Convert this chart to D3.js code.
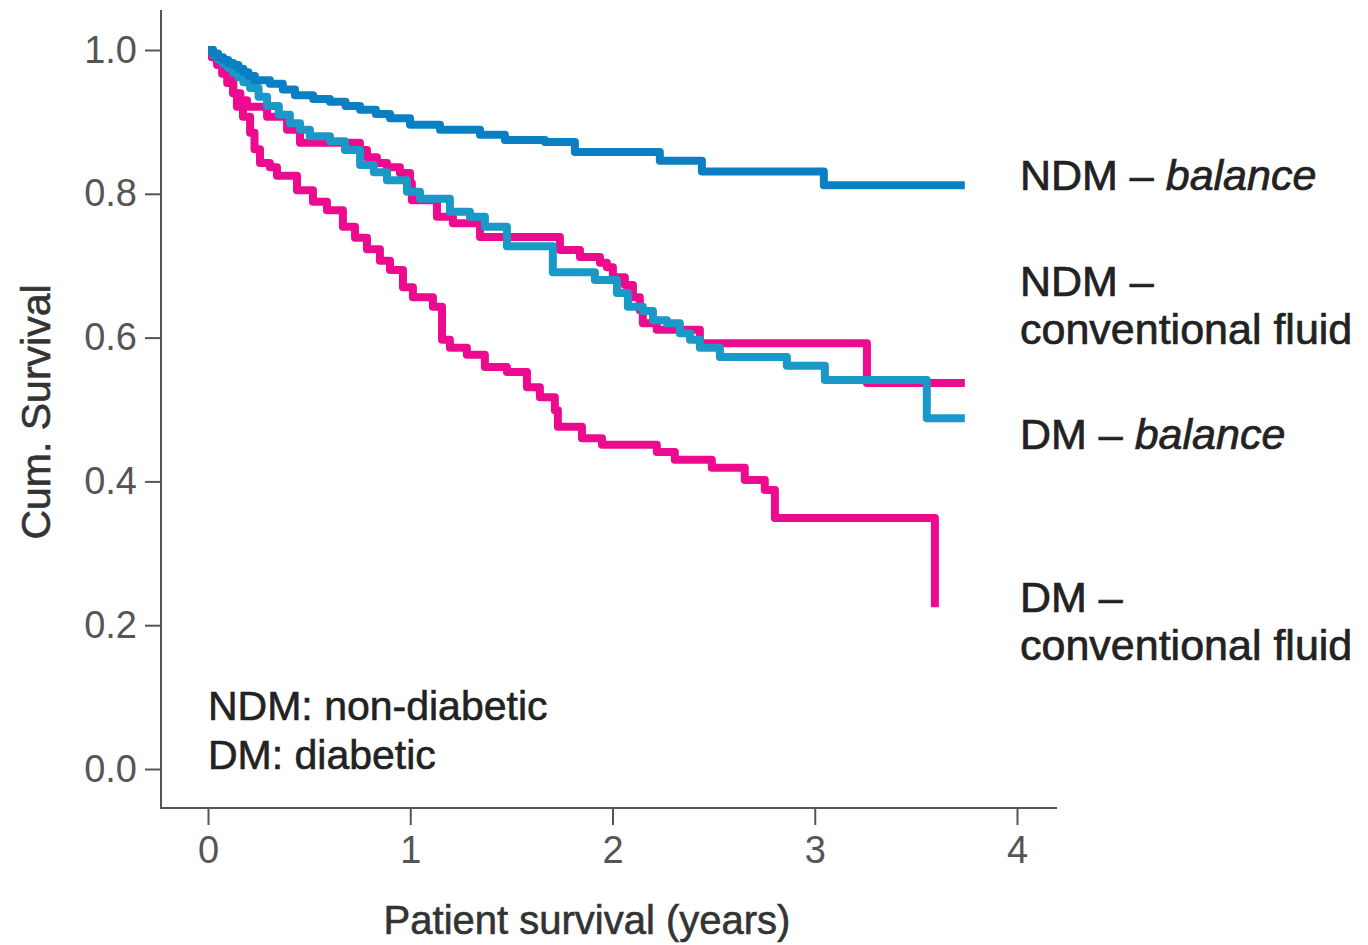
<!DOCTYPE html>
<html>
<head>
<meta charset="utf-8">
<script src="https://cdn.jsdelivr.net/npm/d3@7"></script>
<style>
  body { margin: 0; background: #fff; }
  svg { display: block; font-family: "Liberation Sans", Arial, Helvetica, sans-serif; }
</style>
</head>
<body>
<div id="chart"></div>
<script>
// Kaplan-Meier style step data (time in years, cumulative survival)
const ndmBalanceT = [0, 0.025, 0.05, 0.075, 0.1, 0.125, 0.15, 0.175, 0.2, 0.232, 0.306, 0.37, 0.43, 0.52, 0.603, 0.68, 0.752, 0.83, 0.9, 0.999, 1.147, 1.345, 1.468, 1.666, 1.814, 2.234, 2.442, 3.045];
const ndmBalanceS = [1.0, 0.995, 0.99, 0.986, 0.982, 0.979, 0.974, 0.969, 0.964, 0.958, 0.953, 0.945, 0.937, 0.932, 0.928, 0.922, 0.917, 0.911, 0.905, 0.896, 0.889, 0.882, 0.875, 0.872, 0.858, 0.846, 0.831, 0.812];
const ndmBalanceEnd = 3.742;

const dmBalanceT = [0, 0.025, 0.05, 0.075, 0.1, 0.125, 0.15, 0.175, 0.208, 0.25, 0.292, 0.35, 0.405, 0.455, 0.504, 0.603, 0.677, 0.752, 0.82, 0.885, 0.984, 1.048, 1.196, 1.295, 1.369, 1.478, 1.705, 1.913, 2.022, 2.076, 2.15, 2.2, 2.269, 2.333, 2.383, 2.432, 2.531, 2.862, 3.05, 3.554];
const dmBalanceS = [1.0, 0.993, 0.987, 0.981, 0.975, 0.968, 0.962, 0.955, 0.947, 0.935, 0.922, 0.91, 0.898, 0.889, 0.88, 0.873, 0.861, 0.84, 0.83, 0.819, 0.803, 0.793, 0.775, 0.768, 0.754, 0.727, 0.691, 0.68, 0.662, 0.643, 0.637, 0.624, 0.62, 0.606, 0.597, 0.586, 0.573, 0.561, 0.541, 0.488];
const dmBalanceEnd = 3.742;

const ndmConvT = [0, 0.02, 0.045, 0.07, 0.095, 0.124, 0.16, 0.193, 0.292, 0.391, 0.455, 0.751, 0.786, 0.835, 0.885, 0.949, 0.999, 1.008, 1.132, 1.211, 1.345, 1.74, 1.839, 1.938, 1.972, 2.002, 2.061, 2.101, 2.135, 2.15, 2.219, 2.432, 3.258];
const ndmConvS = [1.0, 0.99, 0.979, 0.967, 0.954, 0.94, 0.93, 0.921, 0.907, 0.889, 0.871, 0.861, 0.851, 0.843, 0.837, 0.829, 0.815, 0.791, 0.768, 0.759, 0.74, 0.722, 0.712, 0.704, 0.698, 0.684, 0.673, 0.656, 0.638, 0.62, 0.611, 0.592, 0.537];
const ndmConvEnd = 3.742;

const dmConvT = [0, 0.02, 0.045, 0.069, 0.09, 0.109, 0.125, 0.143, 0.173, 0.208, 0.23, 0.257, 0.306, 0.341, 0.44, 0.519, 0.588, 0.667, 0.727, 0.786, 0.85, 0.9, 0.964, 1.013, 1.112, 1.157, 1.196, 1.28, 1.369, 1.478, 1.577, 1.641, 1.715, 1.73, 1.849, 1.948, 2.219, 2.308, 2.491, 2.654, 2.753, 2.803, 3.594];
const dmConvS = [1.0, 0.99, 0.985, 0.979, 0.97, 0.961, 0.94, 0.921, 0.907, 0.885, 0.862, 0.843, 0.837, 0.825, 0.805, 0.789, 0.777, 0.754, 0.739, 0.723, 0.707, 0.694, 0.67, 0.656, 0.643, 0.597, 0.586, 0.576, 0.559, 0.552, 0.531, 0.517, 0.499, 0.476, 0.46, 0.451, 0.441, 0.43, 0.419, 0.402, 0.388, 0.349, 0.225];
const dmConvEnd = 3.594;

const xTicks = [0, 1, 2, 3, 4];
const yTicks = [0, 0.2, 0.4, 0.6, 0.8, 1.0];

const seriesNames = ['DM – conventional fluid', 'NDM – conventional fluid', 'DM – balance', 'NDM – balance'];

const width = 1368, height = 945;
const svg = d3.select('#chart').append('svg')
  .attr('width', width)
  .attr('height', height);

const x = d3.scaleLinear().domain([0, 4]).range([208, 1017]);
const y = d3.scaleLinear().domain([0, 1]).range([769, 50]);

const axisX = 161, axisY = 808;

// axes
const gy = svg.append('g')
  .attr('transform', `translate(${axisX},0)`)
  .call(d3.axisLeft(y).tickValues(yTicks).tickFormat(d3.format('.1f')).tickSize(16).tickPadding(8));
const gx = svg.append('g')
  .attr('transform', `translate(0,${axisY})`)
  .call(d3.axisBottom(x).tickValues(xTicks).tickFormat(d3.format('d')).tickSize(17).tickPadding(11));

[gx, gy].forEach(g => {
  g.select('.domain').remove();
  g.selectAll('.tick line').attr('stroke', '#555').attr('stroke-width', 2);
  g.selectAll('.tick text')
    .attr('fill', '#555')
    .style('font-size', '38px')
    .style('font-family', '"Liberation Sans", Arial, sans-serif');
});

svg.append('line')
  .attr('x1', axisX).attr('x2', axisX)
  .attr('y1', 10).attr('y2', axisY + 1)
  .attr('stroke', '#555').attr('stroke-width', 2);
svg.append('line')
  .attr('x1', axisX - 1).attr('x2', 1057)
  .attr('y1', axisY).attr('y2', axisY)
  .attr('stroke', '#555').attr('stroke-width', 2);

// axis titles
svg.append('text')
  .attr('x', 587).attr('y', 934)
  .attr('text-anchor', 'middle')
  .attr('fill', '#333')
  .attr('stroke', '#333').attr('stroke-width', 0.6)
  .style('font-size', '40px')
  .text('Patient survival (years)');

svg.append('text')
  .attr('transform', 'translate(50,412) rotate(-90)')
  .attr('text-anchor', 'middle')
  .attr('fill', '#333')
  .attr('stroke', '#333').attr('stroke-width', 0.6)
  .style('font-size', '41px')
  .text('Cum. Survival');

// curves
function toPoints(ts, ss, end) {
  const pts = ts.map((t, i) => [t, ss[i]]);
  pts.push([end, ss[ss.length - 1]]);
  return pts;
}

const series = [
  { name: seriesNames[0], pts: toPoints(dmConvT, dmConvS, dmConvEnd), color: '#ec0b8f' },
  { name: seriesNames[1], pts: toPoints(ndmConvT, ndmConvS, ndmConvEnd), color: '#ec0b8f' },
  { name: seriesNames[2], pts: toPoints(dmBalanceT, dmBalanceS, dmBalanceEnd), color: '#1a98c8' },
  { name: seriesNames[3], pts: toPoints(ndmBalanceT, ndmBalanceS, ndmBalanceEnd), color: '#0a7fc4' }
];

const line = d3.line()
  .x(d => x(d[0]))
  .y(d => y(d[1]))
  .curve(d3.curveStepAfter);

svg.append('g')
  .selectAll('path')
  .data(series)
  .join('path')
  .attr('d', d => line(d.pts))
  .attr('fill', 'none')
  .attr('stroke', d => d.color)
  .attr('stroke-width', 8)
  .attr('stroke-linejoin', 'round');

// right-hand labels
const labels = [
  { y: 190, parts: [['NDM – ', false], ['balance', true]] },
  { y: 296, parts: [['NDM –', false]] },
  { y: 344, parts: [['conventional fluid', false]] },
  { y: 449, parts: [['DM – ', false], ['balance', true]] },
  { y: 612, parts: [['DM –', false]] },
  { y: 660, parts: [['conventional fluid', false]] }
];

const lab = svg.append('g')
  .attr('fill', '#222')
  .attr('stroke', '#222').attr('stroke-width', 0.7)
  .style('font-size', '43px');
labels.forEach(l => {
  const t = lab.append('text').attr('x', 1020).attr('y', l.y);
  l.parts.forEach(p => {
    t.append('tspan').style('font-style', p[1] ? 'italic' : 'normal').text(p[0]);
  });
});

// abbreviation notes
const notes = ['NDM: non-diabetic', 'DM: diabetic'];
svg.append('g')
  .selectAll('text')
  .data(notes)
  .join('text')
  .attr('x', 208)
  .attr('y', (d, i) => 720 + i * 49)
  .attr('fill', '#222')
  .attr('stroke', '#222').attr('stroke-width', 0.6)
  .style('font-size', '41px')
  .text(d => d);
</script>
</body>
</html>
